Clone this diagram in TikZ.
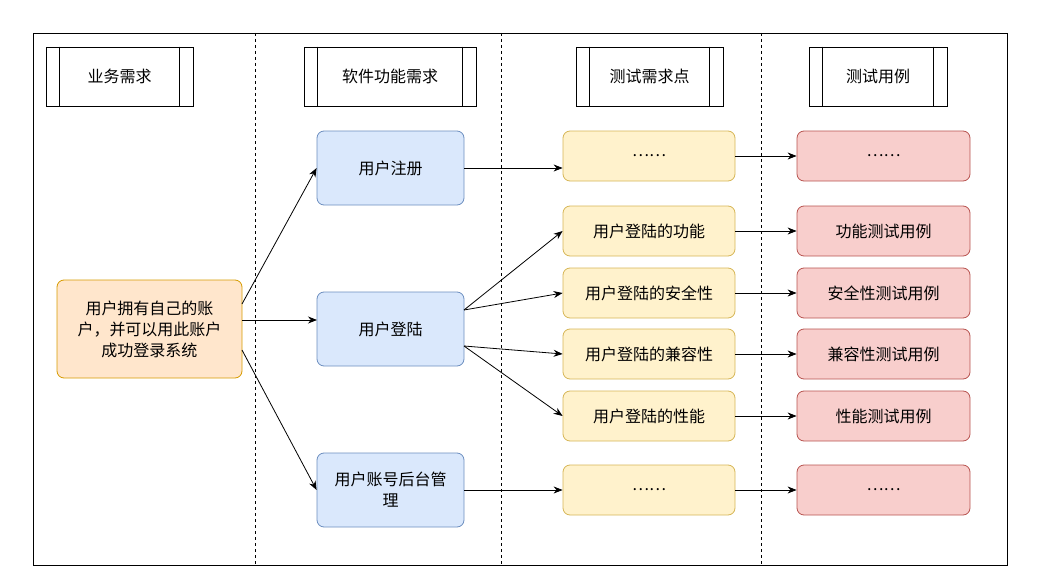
\documentclass[tikz,border=0pt]{standalone}
\usepackage{fontspec}
\setmainfont{Noto Sans CJK SC}
\usetikzlibrary{arrows.meta}
\definecolor{ofill}{HTML}{FFE6CC}\definecolor{ostr}{HTML}{D79B00}
\definecolor{bfill}{HTML}{DAE8FC}\definecolor{bstr}{HTML}{6C8EBF}
\definecolor{yfill}{HTML}{FFF2CC}\definecolor{ystr}{HTML}{D6B656}
\definecolor{rfill}{HTML}{F8CECC}\definecolor{rstr}{HTML}{B85450}
\begin{document}
\begin{tikzpicture}[x=1pt,y=-1pt,
 box/.style={rounded corners=7pt,line width=0.8pt,inner sep=0pt,align=center,font=\fontsize{16}{21}\selectfont},
 ob/.style={box,fill=ofill,draw=ostr,minimum width=185pt,minimum height=98pt},
 bb/.style={box,fill=bfill,draw=bstr,minimum width=147pt,minimum height=74pt},
 yb/.style={box,fill=yfill,draw=ystr,minimum width=172pt,minimum height=50pt},
 rb/.style={box,fill=rfill,draw=rstr,minimum width=173pt,minimum height=50pt},
 hd/.style={draw,line width=0.8pt,minimum height=59pt,inner sep=0pt,font=\fontsize{16}{21}\selectfont},
 ar/.style={-{Stealth[length=9pt,width=7pt]},line width=0.8pt}]
\useasboundingbox (0,0) rectangle (1053,578);
\draw[line width=0.8pt] (33,33) rectangle (1007,565);
\foreach \x in {255,501,761} \draw[dashed,line width=0.7pt] (\x,33) -- (\x,565);
\foreach \n/\xa/\xb/\t in {h1/46/193/业务需求,h2/304/476/软件功能需求,h3/576/723/测试需求点,h4/809/947/测试用例}{
 \node[hd,minimum width={\xb-\xa}] (\n) at ({(\xa+\xb)/2},76.5) {\t};
 \draw[line width=0.8pt] ([xshift=14pt]\n.north west) -- ([xshift=14pt]\n.south west);
 \draw[line width=0.8pt] ([xshift=-14pt]\n.north east) -- ([xshift=-14pt]\n.south east);}
\node[ob] (m) at (149.5,329) {用户拥有自己的账\\户，并可以用此账户\\成功登录系统};
\node[bb] (b1) at (390.5,168) {用户注册};
\node[bb] (b2) at (390.5,329) {用户登陆};
\node[bb] (b3) at (390.5,490) {用户账号后台管\\理};
\node[yb] (y1) at (649,156) {……};
\node[yb] (y2) at (649,231) {用户登陆的功能};
\node[yb] (y3) at (649,293) {用户登陆的安全性};
\node[yb] (y4) at (649,354) {用户登陆的兼容性};
\node[yb] (y5) at (649,416) {用户登陆的性能};
\node[yb] (y6) at (649,490) {……};
\node[rb] (r1) at (883.5,156) {……};
\node[rb] (r2) at (883.5,231) {功能测试用例};
\node[rb] (r3) at (883.5,293) {安全性测试用例};
\node[rb] (r4) at (883.5,354) {兼容性测试用例};
\node[rb] (r5) at (883.5,416) {性能测试用例};
\node[rb] (r6) at (883.5,490) {……};
\draw[ar] (242,304) -- (b1.west);
\draw[ar] (242,320) -- (317,320);
\draw[ar] (242,350) -- (b3.west);
\draw[ar] (b1.east) -- (y1.west |- b1.east);
\draw[ar] (464,490) -- (y6.west);
\draw[ar] (464,310) -- (y2.west);
\draw[ar] (464,310) -- (y3.west);
\draw[ar] (464,346) -- (y4.west);
\draw[ar] (464,346) -- (y5.west);
\foreach \i in {1,...,6} \draw[ar] (y\i.east) -- (r\i.west);
\end{tikzpicture}
\end{document}
